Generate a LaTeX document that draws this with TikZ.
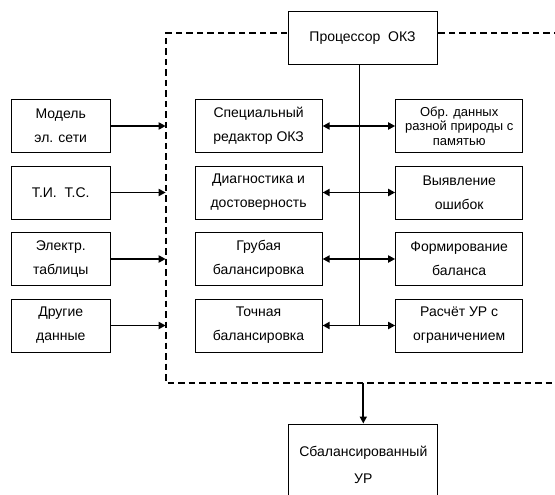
\documentclass[tikz,border=0pt]{standalone}
\usepackage{fontspec}
\setmainfont{Liberation Sans}
\usetikzlibrary{arrows.meta}
\begin{document}
\begin{tikzpicture}[x=1pt,y=-1pt,
  box/.style={draw,line width=1pt,fill=white,align=center,inner sep=0pt,
    font=\fontsize{14}{24}\selectfont},
  srcbox/.style={box,minimum width=99.5pt,minimum height=53pt},
  stagebox/.style={box,minimum width=127pt,minimum height=53pt},
  link/.style={line width=1.8pt,-{Triangle[length=7pt,width=7pt]}},
  dlink/.style={line width=1.8pt,{Triangle[length=7pt,width=7pt]}-{Triangle[length=7pt,width=7pt]}},
  frame/.style={line width=2pt,dash pattern=on 6.5pt off 4pt}]
  \useasboundingbox (0,0) rectangle (555,495);
  % dashed frame of the processor
  \draw[frame] (560,33.3) -- (165.7,33.3) -- (165.7,382.5) -- (560,382.5);
  \node[box,minimum width=149pt,minimum height=53pt] (proc) at (362.5,38.5) {Процессор~~ОКЗ};
  % input data
  \node[srcbox] (src1) at (60.75,126) {Модель\\эл. сети};
  \node[srcbox] (src2) at (60.75,192.5) {Т.И.~~Т.С.};
  \node[srcbox] (src3) at (60.75,259) {Электр.\\таблицы};
  \node[srcbox] (src4) at (60.75,325.5) {Другие\\данные};
  % processing stages
  \node[stagebox] (mid1) at (258.6,126) {Специальный\\редактор ОКЗ};
  \node[stagebox] (mid2) at (258.6,192.5) {Диагностика и\\достоверность};
  \node[stagebox] (mid3) at (258.6,259) {Грубая\\балансировка};
  \node[stagebox] (mid4) at (258.6,325.5) {Точная\\балансировка};
  % functions
  \node[stagebox,font=\fontsize{13}{14.5}\selectfont] (fun1) at (459.2,126) {Обр. данных\\разной природы с\\памятью};
  \node[stagebox] (fun2) at (459.2,192.5) {Выявление\\ошибок};
  \node[stagebox] (fun3) at (459.2,259) {Формирование\\баланса};
  \node[stagebox] (fun4) at (459.2,325.5) {Расчёт УР с\\ограничением};
  % result
  \node[box,font=\fontsize{14}{27}\selectfont,minimum width=148.7pt,minimum height=81pt] (res) at (363.3,464.5) {Сбалансированный\\УР};
  % connectors
  \foreach \i in {1,...,4} {
    \coordinate (in\i) at (165.7,0 |- src\i.east);
    \draw[link] (src\i.east) -- (in\i);
    \draw[dlink] (mid\i.east) -- (fun\i.west);
  }
  \coordinate (bus) at (359,0);
  \draw[line width=1pt] (bus |- proc.south) -- (bus |- mid4.east);
  \coordinate (out) at (363.3,382.5);
  \draw[link] (out) -- (res.north);
\end{tikzpicture}
\end{document}
